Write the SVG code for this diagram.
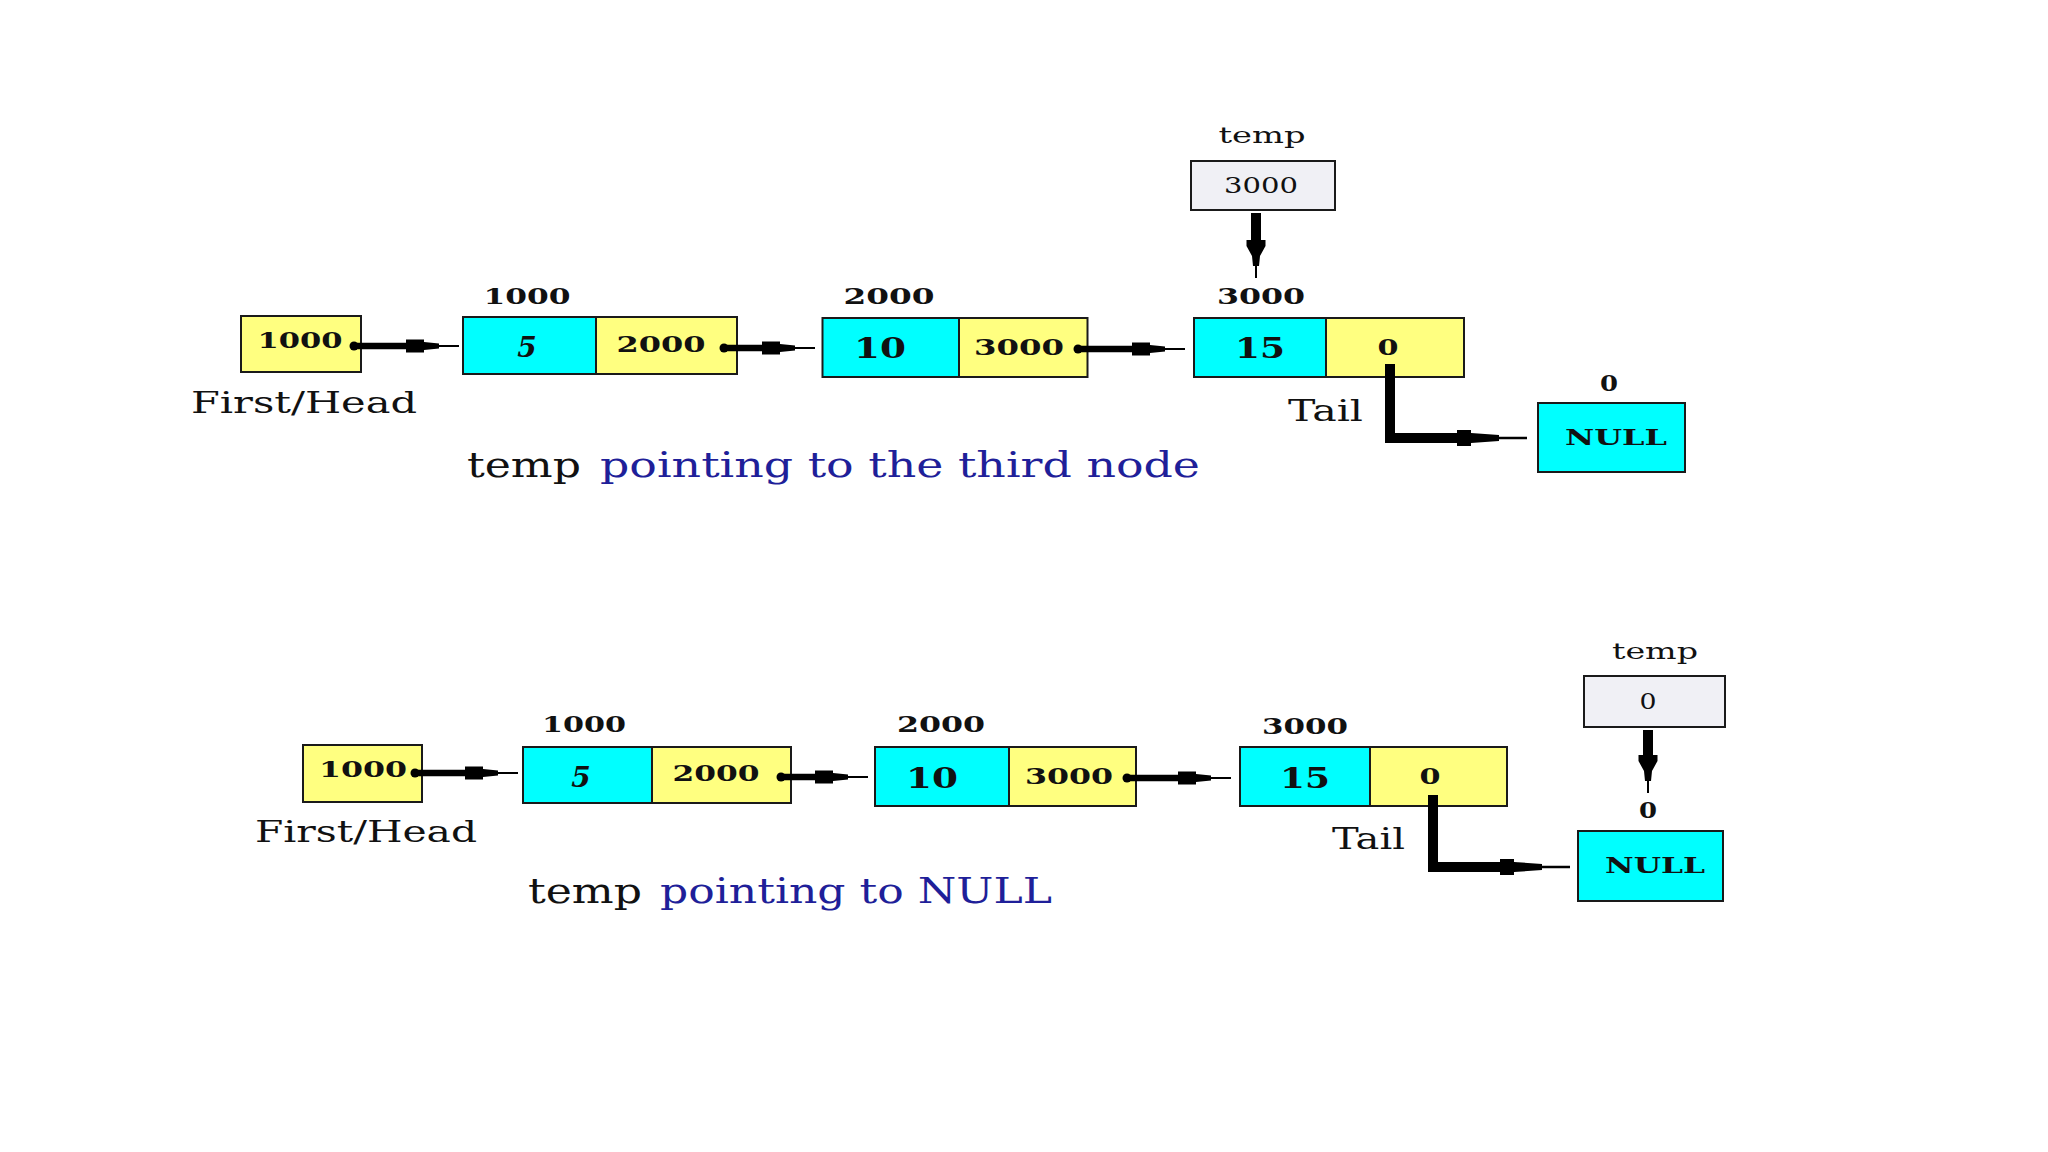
<svg xmlns="http://www.w3.org/2000/svg" width="2048" height="1152" viewBox="0 0 2048 1152">
<style>
.cy{fill:#00FFFF;stroke:#1a1a1a;stroke-width:2}
.ye{fill:#FFFF80;stroke:#1a1a1a;stroke-width:2}
.tp{fill:#F0F0F5;stroke:#1a1a1a;stroke-width:2}
.num{font-family:"DejaVu Serif",serif;font-weight:bold;font-size:22px;fill:#111;text-anchor:middle}
.big{font-family:"DejaVu Serif",serif;font-weight:bold;font-size:28px;fill:#111;text-anchor:middle}
.reg{font-family:"DejaVu Serif",serif;font-size:22px;fill:#111;text-anchor:middle}
.lbl{font-family:"DejaVu Serif",serif;font-size:30px;fill:#111}
.cap{font-family:"DejaVu Serif",serif;font-size:36px;fill:#111}
.blue{fill:#1f1f99}
.conn{fill:none;stroke:#000}
</style>
<defs>
<marker id="dot" markerUnits="userSpaceOnUse" orient="auto" refX="0" refY="0" markerWidth="10" markerHeight="10" overflow="visible"><circle r="4.5" fill="#000"/></marker>
<marker id="hh" markerUnits="userSpaceOnUse" orient="auto" refX="0" refY="0" markerWidth="60" markerHeight="20" overflow="visible"><path d="M0,-6.5 H18 V-4 L33,-2.5 V-1 H53 V1 H33 V2.5 L18,4 V6.5 H0 Z" fill="#000"/></marker>
<marker id="hv" markerUnits="userSpaceOnUse" orient="auto" refX="0" refY="0" markerWidth="40" markerHeight="20" overflow="visible"><path d="M0,-9.5 H6 L16,-4 L26,-3 V-1 H38 V1 H26 V3 L16,4 L6,9.5 H0 Z" fill="#000"/></marker>
<marker id="hl" markerUnits="userSpaceOnUse" orient="auto" refX="0" refY="0" markerWidth="72" markerHeight="20" overflow="visible"><path d="M0,-8 H14 V-5 L42,-3 V-1.2 H70 V1.2 H42 V3 L14,5 V8 H0 Z" fill="#000"/></marker>
</defs>

<!-- Row 1 -->
<g id="head1">
<rect class="ye" x="241" y="316" width="120" height="56"/>
<text class="num" x="300" y="348" textLength="85" lengthAdjust="spacingAndGlyphs">1000</text>
<text class="lbl" x="191" y="413" textLength="226" lengthAdjust="spacingAndGlyphs">First/Head</text>
</g>
<g id="node1a">
<text class="num" x="527" y="304" textLength="87" lengthAdjust="spacingAndGlyphs">1000</text>
<rect class="cy" x="463" y="317" width="133" height="57"/>
<rect class="ye" x="596" y="317" width="141" height="57"/>
<text class="big" x="527" y="357" font-style="italic">5</text>
<text class="num" x="661" y="352" textLength="89" lengthAdjust="spacingAndGlyphs">2000</text>
</g>
<g id="node2a">
<text class="num" x="889" y="304" textLength="91" lengthAdjust="spacingAndGlyphs">2000</text>
<rect class="cy" x="822.5" y="318" width="136.5" height="59"/>
<rect class="ye" x="959" y="318" width="128.5" height="59"/>
<text class="big" x="880" y="358" textLength="52" lengthAdjust="spacingAndGlyphs">10</text>
<text class="num" x="1019" y="355" textLength="90" lengthAdjust="spacingAndGlyphs">3000</text>
</g>
<g id="node3a">
<text class="num" x="1261" y="304" textLength="88" lengthAdjust="spacingAndGlyphs">3000</text>
<rect class="cy" x="1194" y="318" width="132" height="59"/>
<rect class="ye" x="1326" y="318" width="138" height="59"/>
<text class="big" x="1260" y="358" textLength="50" lengthAdjust="spacingAndGlyphs">15</text>
<text class="num" x="1388" y="355" font-size="24" textLength="21" lengthAdjust="spacingAndGlyphs">0</text>
<text class="lbl" x="1288" y="421" textLength="75" lengthAdjust="spacingAndGlyphs">Tail</text>
</g>
<g id="null1">
<text class="num" x="1609" y="391" font-size="21" textLength="18" lengthAdjust="spacingAndGlyphs">0</text>
<rect class="cy" x="1538" y="403" width="147" height="69"/>
<text class="num" x="1616" y="445" font-size="25" textLength="102" lengthAdjust="spacingAndGlyphs">NULL</text>
</g>
<g id="temp1">
<text class="reg" x="1262" y="143" font-size="24" textLength="87" lengthAdjust="spacingAndGlyphs">temp</text>
<rect class="tp" x="1191" y="161" width="144" height="49"/>
<text class="reg" x="1261" y="193" textLength="74" lengthAdjust="spacingAndGlyphs">3000</text>
</g>
<g id="caption1">
<text class="cap" x="467" y="477" textLength="114" lengthAdjust="spacingAndGlyphs">temp</text>
<text class="cap blue" x="600" y="477" textLength="600" lengthAdjust="spacingAndGlyphs">pointing to the third node</text>
</g>

<!-- Row 2 -->
<g id="head2">
<rect class="ye" x="303" y="745" width="119" height="57"/>
<text class="num" x="363" y="777" textLength="88" lengthAdjust="spacingAndGlyphs">1000</text>
<text class="lbl" x="255" y="842" textLength="222" lengthAdjust="spacingAndGlyphs">First/Head</text>
</g>
<g id="node1b">
<text class="num" x="584" y="732" textLength="84" lengthAdjust="spacingAndGlyphs">1000</text>
<rect class="cy" x="523" y="747" width="129" height="56"/>
<rect class="ye" x="652" y="747" width="139" height="56"/>
<text class="big" x="581" y="787" font-style="italic">5</text>
<text class="num" x="716" y="781" textLength="87" lengthAdjust="spacingAndGlyphs">2000</text>
</g>
<g id="node2b">
<text class="num" x="941" y="732" textLength="88" lengthAdjust="spacingAndGlyphs">2000</text>
<rect class="cy" x="875" y="747" width="134" height="59"/>
<rect class="ye" x="1009" y="747" width="127" height="59"/>
<text class="big" x="932" y="788" textLength="52" lengthAdjust="spacingAndGlyphs">10</text>
<text class="num" x="1069" y="784" textLength="88" lengthAdjust="spacingAndGlyphs">3000</text>
</g>
<g id="node3b">
<text class="num" x="1305" y="734" textLength="86" lengthAdjust="spacingAndGlyphs">3000</text>
<rect class="cy" x="1240" y="747" width="130" height="59"/>
<rect class="ye" x="1370" y="747" width="137" height="59"/>
<text class="big" x="1305" y="788" textLength="50" lengthAdjust="spacingAndGlyphs">15</text>
<text class="num" x="1430" y="784" font-size="24" textLength="21" lengthAdjust="spacingAndGlyphs">0</text>
<text class="lbl" x="1332" y="849" textLength="73" lengthAdjust="spacingAndGlyphs">Tail</text>
</g>
<g id="null2">
<text class="num" x="1648" y="818" font-size="21" textLength="18" lengthAdjust="spacingAndGlyphs">0</text>
<rect class="cy" x="1578" y="831" width="145" height="70"/>
<text class="num" x="1655" y="873" font-size="25" textLength="100" lengthAdjust="spacingAndGlyphs">NULL</text>
</g>
<g id="temp2">
<text class="reg" x="1655" y="659" font-size="24" textLength="86" lengthAdjust="spacingAndGlyphs">temp</text>
<rect class="tp" x="1584" y="676" width="141" height="51"/>
<text class="reg" x="1648" y="709" font-size="23" textLength="17" lengthAdjust="spacingAndGlyphs">0</text>
</g>
<g id="caption2">
<text class="cap" x="528" y="903" textLength="114" lengthAdjust="spacingAndGlyphs">temp</text>
<text class="cap blue" x="660" y="903" textLength="392" lengthAdjust="spacingAndGlyphs">pointing to NULL</text>
</g>

<g id="connectors">
<path class="conn" stroke-width="6.5" d="M354,346 H406" marker-start="url(#dot)" marker-end="url(#hh)"/>
<path class="conn" stroke-width="6.5" d="M724,348 H762" marker-start="url(#dot)" marker-end="url(#hh)"/>
<path class="conn" stroke-width="6.5" d="M1078,349 H1132" marker-start="url(#dot)" marker-end="url(#hh)"/>
<path class="conn" stroke-width="10" d="M1256,213 V240" marker-end="url(#hv)"/>
<path class="conn" stroke-width="10" stroke-linejoin="miter" d="M1390,364 V438 H1457" marker-end="url(#hl)"/>
<path class="conn" stroke-width="6.5" d="M415,773 H465" marker-start="url(#dot)" marker-end="url(#hh)"/>
<path class="conn" stroke-width="6.5" d="M781,777 H815" marker-start="url(#dot)" marker-end="url(#hh)"/>
<path class="conn" stroke-width="6.5" d="M1127,778 H1178" marker-start="url(#dot)" marker-end="url(#hh)"/>
<path class="conn" stroke-width="10" d="M1648,730 V755" marker-end="url(#hv)"/>
<path class="conn" stroke-width="10" stroke-linejoin="miter" d="M1433,795 V867 H1500" marker-end="url(#hl)"/>
</g>
</svg>
